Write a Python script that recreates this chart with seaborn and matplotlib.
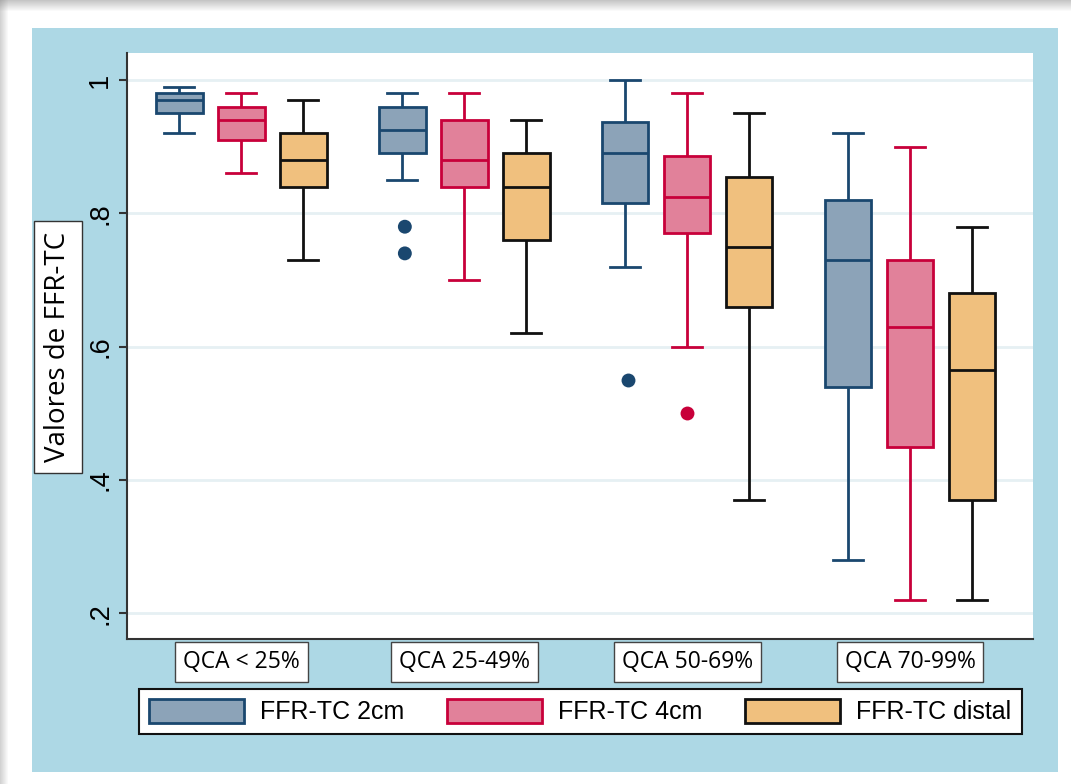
import matplotlib
matplotlib.use("Agg")
import matplotlib.pyplot as plt
from matplotlib.patches import Rectangle, Patch
import seaborn as sns
import pandas as pd

# categories and series
cats = ["QCA < 25%", "QCA 25-49%", "QCA 50-69%", "QCA 70-99%"]
series = ["FFR-TC 2cm", "FFR-TC 4cm", "FFR-TC distal"]

# five-number summaries (low whisker, q1, median, q3, high whisker)
low_2cm = [0.92, 0.85, 0.72, 0.28]
q1_2cm = [0.95, 0.89, 0.815, 0.54]
med_2cm = [0.97, 0.925, 0.89, 0.73]
q3_2cm = [0.98, 0.96, 0.937, 0.82]
high_2cm = [0.99, 0.98, 1.00, 0.92]

low_4cm = [0.86, 0.70, 0.60, 0.22]
q1_4cm = [0.91, 0.84, 0.77, 0.45]
med_4cm = [0.94, 0.88, 0.825, 0.63]
q3_4cm = [0.96, 0.94, 0.886, 0.73]
high_4cm = [0.98, 0.98, 0.98, 0.90]

low_dist = [0.73, 0.62, 0.37, 0.22]
q1_dist = [0.84, 0.76, 0.66, 0.37]
med_dist = [0.88, 0.84, 0.75, 0.565]
q3_dist = [0.92, 0.89, 0.855, 0.68]
high_dist = [0.97, 0.94, 0.95, 0.78]

# outside values
out_series = ["FFR-TC 2cm", "FFR-TC 2cm", "FFR-TC 2cm", "FFR-TC 4cm"]
out_cats = ["QCA 25-49%", "QCA 25-49%", "QCA 50-69%", "QCA 50-69%"]
out_vals = [0.78, 0.74, 0.55, 0.50]

yticks = [0.2, 0.4, 0.6, 0.8, 1.0]
ytick_labels = [".2", ".4", ".6", ".8", "1"]

fills = {"FFR-TC 2cm": "#8CA3B8", "FFR-TC 4cm": "#E1819A", "FFR-TC distal": "#F0C07E"}
edges = {"FFR-TC 2cm": "#1A476F", "FFR-TC 4cm": "#C8003A", "FFR-TC distal": "#111111"}

summaries = {
    "FFR-TC 2cm": [low_2cm, q1_2cm, med_2cm, q3_2cm, high_2cm],
    "FFR-TC 4cm": [low_4cm, q1_4cm, med_4cm, q3_4cm, high_4cm],
    "FFR-TC distal": [low_dist, q1_dist, med_dist, q3_dist, high_dist],
}

rows = []
for s, stats in summaries.items():
    for i, c in enumerate(cats):
        for arr in stats:
            rows.append({"cat": c, "series": s, "value": arr[i]})
df = pd.DataFrame(rows)
out_df = pd.DataFrame({"cat": out_cats, "series": out_series, "value": out_vals})

W, H = 1071, 784
fig = plt.figure(figsize=(W / 100, H / 100), dpi=100, facecolor="white")


def fx(px):
    return px / W


def fy(py):
    return 1 - py / H


# shadow + light blue background
for i in range(11):
    fig.patches.append(Rectangle((0, fy(i + 1)), 1, 1 / H, transform=fig.transFigure,
                                 color="#808080", alpha=0.45 * (1 - i / 11), lw=0, zorder=-20))
for i in range(8):
    fig.patches.append(Rectangle((fx(i), 0), 1 / W, 1, transform=fig.transFigure,
                                 color="#808080", alpha=0.35 * (1 - i / 8), lw=0, zorder=-20))
fig.patches.append(Rectangle((fx(32), fy(772)), fx(1058 - 32), (772 - 28) / H,
                             transform=fig.transFigure, color="#ADD8E5", lw=0, zorder=-10))

ax = fig.add_axes([fx(127), fy(639), fx(1033 - 127), (639 - 52.5) / H])
ax.set_facecolor("white")

for s in series:
    sns.boxplot(data=df[df["series"] == s], x="cat", y="value", hue="series",
                hue_order=series, order=cats, palette=fills, dodge=True,
                width=0.834, gap=0.25, whis=(0, 100), saturation=1,
                linecolor=edges[s], linewidth=2, showfliers=False,
                legend=False, ax=ax)

# widen the whisker caps a little (Stata style)
for line in ax.lines:
    xs, ys = line.get_xdata(), line.get_ydata()
    if len(xs) == 2 and ys[0] == ys[1] and abs(xs[1] - xs[0]) < 0.15:
        mid = (xs[0] + xs[1]) / 2
        half = abs(xs[1] - xs[0]) * 0.65
        line.set_xdata([mid - half, mid + half])

sns.stripplot(data=out_df, x="cat", y="value", hue="series", hue_order=series,
              order=cats, palette=edges, dodge=True, jitter=False, size=10,
              linewidth=0, legend=False, ax=ax, zorder=5)

ax.set_xlim(-0.513, 3.551)
ax.set_ylim(0.1616, 1.0413)
ax.set_yticks(yticks)
ax.set_yticklabels(ytick_labels, rotation=90, va="center",
                   family="Liberation Sans", fontsize=19.5)
ax.yaxis.grid(True, color="#E6F0F3", lw=2)
ax.set_axisbelow(True)
ax.tick_params(axis="y", length=6, width=1.5, color="#333333", pad=4)
ax.tick_params(axis="x", length=0, pad=8)
ax.set_xticks(range(len(cats)))
ax.set_xticklabels(cats, family="Open Sans", fontsize=16.5)
for lab in ax.get_xticklabels():
    lab.set_bbox(dict(boxstyle="square,pad=0.34", fc="white", ec="#444444", lw=1))
ax.set_xlabel("")
ax.set_ylabel("")
for side in ["top", "right"]:
    ax.spines[side].set_visible(False)
for side in ["left", "bottom"]:
    ax.spines[side].set_color("#333333")
    ax.spines[side].set_linewidth(1.5)

# y label in its own box
fig.patches.append(Rectangle((fx(34), fy(473)), fx(82 - 34), (473 - 221) / H,
                             transform=fig.transFigure, fc="white", ec="#333333", lw=1))
fig.text(fx(58), fy(347), "Valores de FFR-TC", rotation=90, ha="center", va="center",
         family="Open Sans", fontsize=20)

handles = [Patch(facecolor=fills[s], edgecolor=edges[s], lw=2, label=s) for s in series]
leg = fig.legend(handles=handles, loc="upper left", bbox_to_anchor=(fx(139), fy(688.7)),
                 ncol=3, frameon=True, fancybox=False, edgecolor="#111111",
                 facecolor="white", framealpha=1,
                 prop={"family": "Liberation Sans", "size": 18},
                 handlelength=3.8, handleheight=1.1, handletextpad=0.65,
                 columnspacing=1.7, borderpad=0.4, borderaxespad=0)
leg.get_frame().set_linewidth(1.5)

fig.savefig("out.png", dpi=100, facecolor="white")
